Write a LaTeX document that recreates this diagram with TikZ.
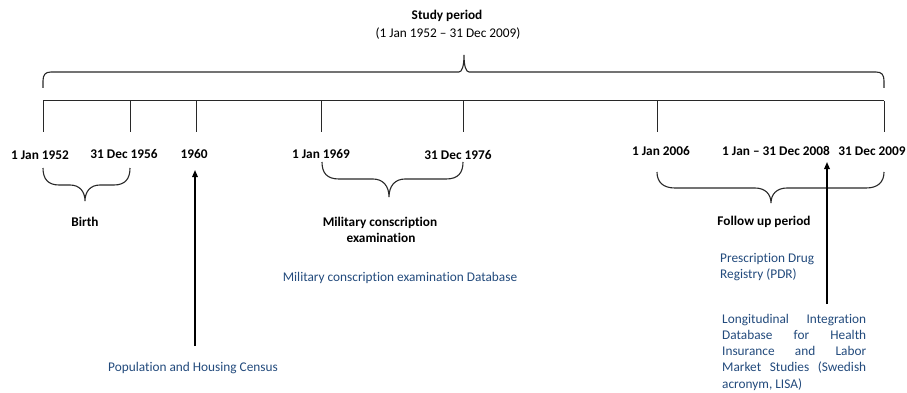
\documentclass[tikz,border=0pt]{standalone}
\usepackage{fontspec}
\setmainfont[Ligatures=NoCommon]{Carlito}
\usetikzlibrary{arrows.meta}
\definecolor{dbblue}{RGB}{34,74,124}
\definecolor{linegray}{RGB}{40,40,40}
\begin{document}
\begin{tikzpicture}[x=1pt,y=-1pt,
  lbl/.style={font=\bfseries\fontsize{13.3}{16}\selectfont, inner sep=0, anchor=base},
  dbtext/.style={font=\fontsize{13.3}{16.3}\selectfont, text=dbblue, inner sep=0, anchor=base},
  dbleft/.style={dbtext, anchor=base west},
  tickline/.style={line width=1pt, draw=linegray},
  bracepath/.style={line width=1.1pt, draw=linegray},
  srcarrow/.style={line width=1.5pt, draw=black, -{Triangle[width=5.5pt,length=7pt]}}]
\useasboundingbox (0,0) rectangle (907,393);

% title
\node[lbl] (title) at (447,20) {Study period};
\node[lbl, font=\fontsize{13.3}{16}\selectfont] (subtitle) at (448,37.5) {(1 Jan 1952 – 31 Dec 2009)};

% top brace
\draw[bracepath] (43,88) -- (43,81) .. controls (43,75) and (45,72) .. (51,72) -- (459,72)
  .. controls (462,72) and (464,66) .. (464,55) .. controls (464,66) and (466,72) .. (469,72) -- (876,72)
  .. controls (882,72) and (884,75) .. (884,81) -- (884,88);

% timeline
\coordinate (tl0) at (43,101);
\coordinate (tl1) at (884,101);
\draw[tickline] (tl0) -- (tl1);
\foreach \x/\n in {43/a,130/b,196/c,321/d,463/e,657/f,884/g}{
  \coordinate (t\n) at (\x,101);
  \coordinate (b\n) at (\x,132);
  \draw[tickline] (t\n) -- (b\n);
}

% date labels
\node[lbl] (d1952) at (40,159.5) {1 Jan 1952};
\node[lbl] (d1956) at (124,158.5) {31 Dec 1956};
\node[lbl] (d1960) at (194,158.5) {1960};
\node[lbl] (d1969) at (321,158.5) {1 Jan 1969};
\node[lbl] (d1976) at (458,159) {31 Dec 1976};
\node[lbl] (d2006) at (661,155.5) {1 Jan 2006};
\node[lbl] (d2008) at (776,155.5) {1 Jan – 31 Dec 2008};
\node[lbl] (d2009) at (872,155.5) {31 Dec 2009};

% birth brace
\draw[bracepath] (43,168) .. controls (43,179) and (48,185) .. (59,185) -- (70,185)
  .. controls (80,185) and (85,192) .. (85,201) .. controls (85,192) and (90,185) .. (100,185) -- (114,185)
  .. controls (125,185) and (130,179) .. (130,168);
\node[lbl] (birth) at (85,226) {Birth};

% military brace
\draw[bracepath] (322,162) .. controls (322,173) and (327,179) .. (339,179) -- (373,179)
  .. controls (383,179) and (389,186) .. (389,197) .. controls (389,186) and (395,179) .. (405,179) -- (446,179)
  .. controls (458,179) and (463,173) .. (463,162);
\node[lbl] (mil1) at (380,226) {Military conscription};
\node[lbl] (mil2) at (381,242) {examination};
\node[dbtext] (mildb) at (400,281) {Military conscription examination Database};

% follow-up brace
\draw[bracepath] (657,172) .. controls (657,182) and (663,188) .. (675,188) -- (755,188)
  .. controls (765,188) and (771,194) .. (771,203) .. controls (771,194) and (777,188) .. (787,188) -- (866,188)
  .. controls (878,188) and (884,182) .. (884,172);
\node[lbl] (follow) at (764,225) {Follow up period};
\node[dbleft] (pdr1) at (720,262) {Prescription Drug};
\node[dbleft] (pdr2) at (720,278.3) {Registry (PDR)};

% census arrow
\node[dbtext] (census) at (193,371) {Population and Housing Census};
\coordinate (ca0) at (195,346);
\coordinate (ca1) at (195,170);
\draw[srcarrow] (ca0) -- (ca1);

% LISA arrow
\coordinate (la0) at (827,304);
\coordinate (la1) at (827,162);
\draw[srcarrow] (la0) -- (la1);
\node[dbleft] (lisa1) at (722,323) {\makebox[144pt][s]{Longitudinal Integration}};
\node[dbleft] (lisa2) at (722,339.3) {\makebox[144pt][s]{Database for Health}};
\node[dbleft] (lisa3) at (722,355.6) {\makebox[144pt][s]{Insurance and Labor}};
\node[dbleft] (lisa4) at (722,371.9) {\makebox[144pt][s]{Market Studies (Swedish}};
\node[dbleft] (lisa5) at (722,388.2) {acronym, LISA)};
\end{tikzpicture}
\end{document}
